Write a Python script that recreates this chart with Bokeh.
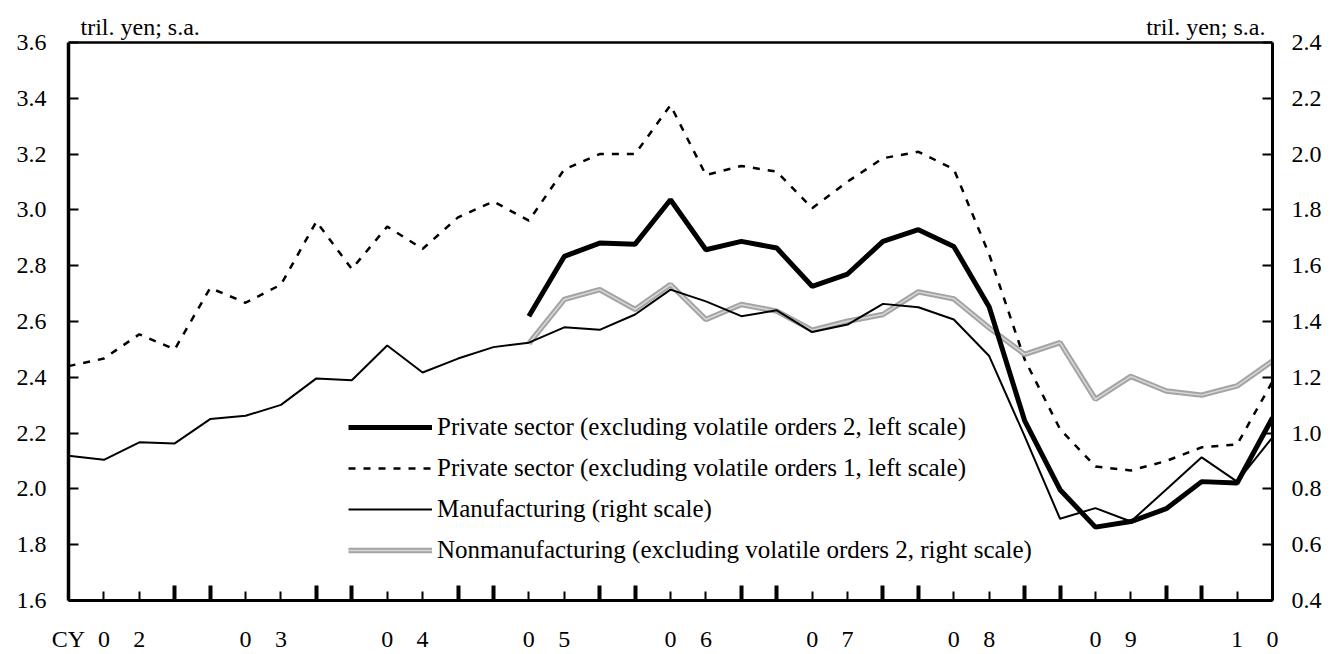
from bokeh.plotting import figure
from bokeh.models import (Range1d, LinearAxis, FixedTicker, Legend, LegendItem,
                          Span, PrintfTickFormatter)
from bokeh.core.properties import value
from bokeh.embed import file_html
from bokeh.resources import INLINE

nan = float("nan")

# quarterly index, 2002Q1 .. 2010Q3
quarters = list(range(35))
quarter_labels = ["CY", "0", "2", "", "", "0", "3", "", "", "0", "4", "", "",
                  "0", "5", "", "", "0", "6", "", "", "0", "7", "", "",
                  "0", "8", "", "", "0", "9", "", "", "1", "0"]
label_ticks = [0, 1, 2, 5, 6, 9, 10, 13, 14, 17, 18, 21, 22, 25, 26, 29, 30, 33, 34]
year_edge_ticks = [3, 4, 7, 8, 11, 12, 15, 16, 19, 20, 23, 24, 27, 28, 31, 32]

left_ticks = [1.6, 1.8, 2.0, 2.2, 2.4, 2.6, 2.8, 3.0, 3.2, 3.4, 3.6]
right_ticks = [0.4, 0.6, 0.8, 1.0, 1.2, 1.4, 1.6, 1.8, 2.0, 2.2, 2.4]
left_min, left_max = 1.6, 3.6
right_min, right_max = 0.4, 2.4
unit_text = "tril. yen; s.a."

# Private sector (excluding volatile orders 2), left scale
private2 = [nan] * 13 + [2.619, 2.833, 2.881, 2.877, 3.036, 2.857, 2.887, 2.863,
                         2.726, 2.770, 2.887, 2.929, 2.869, 2.652, 2.245, 1.997,
                         1.863, 1.883, 1.929, 2.026, 2.021, 2.255]
# Private sector (excluding volatile orders 1), left scale
private1 = [2.440, 2.467, 2.554, 2.500, 2.720, 2.667, 2.732, 2.958, 2.788, 2.940,
            2.860, 2.973, 3.030, 2.961, 3.145, 3.200, 3.200, 3.375, 3.125, 3.157,
            3.137, 3.006, 3.101, 3.185, 3.208, 3.146, 2.840, 2.464, 2.214, 2.080,
            2.066, 2.100, 2.149, 2.159, 2.385]
# Manufacturing, right scale
manufacturing = [0.919, 0.904, 0.967, 0.963, 1.050, 1.062, 1.101, 1.196, 1.189, 1.314,
                 1.217, 1.267, 1.308, 1.324, 1.379, 1.370, 1.425, 1.514, 1.472, 1.419,
                 1.440, 1.362, 1.389, 1.463, 1.451, 1.407, 1.276, 0.989, 0.693, 0.731,
                 0.683, 0.798, 0.913, 0.826, 0.985]
# Nonmanufacturing (excluding volatile orders 2), right scale
nonmanufacturing = [nan] * 13 + [1.321, 1.479, 1.514, 1.443, 1.532, 1.407, 1.461, 1.437,
                                 1.369, 1.401, 1.425, 1.506, 1.481, 1.377, 1.282, 1.324,
                                 1.121, 1.203, 1.151, 1.136, 1.169, 1.258]

names = ["Private sector (excluding volatile orders 2, left scale)",
         "Private sector (excluding volatile orders 1, left scale)",
         "Manufacturing (right scale)",
         "Nonmanufacturing (excluding volatile orders 2, right scale)"]

FONT = "Liberation Serif"
FS = "24px"
HEAD = 0.1  # extra room above the chart box for the unit captions

p = figure(width=1330, height=654, x_range=Range1d(0, 34),
           y_range=Range1d(left_min, left_max + HEAD),
           output_backend="svg", toolbar_location=None,
           min_border_left=68, min_border_right=58, min_border_top=14, min_border_bottom=52)
p.extra_y_ranges = {"right": Range1d(right_min, right_max + HEAD)}
p.xgrid.visible = False
p.ygrid.visible = False
p.outline_line_color = None
p.background_fill_color = "white"
p.border_fill_color = "white"

# top edge of the chart box
p.add_layout(Span(location=left_max, dimension="width", line_color="black", line_width=2.5))

# lines
r_p1 = p.line(quarters, private1, line_color="black", line_width=2.5, line_dash="7 8")
r_nm1 = p.line(quarters, nonmanufacturing, line_color="#a4a4a4", line_width=5.5,
               y_range_name="right")
r_nm2 = p.line(quarters, nonmanufacturing, line_color="#d8d8d8", line_width=1.5,
               y_range_name="right")
r_mf = p.line(quarters, manufacturing, line_color="black", line_width=2, y_range_name="right")
r_p2 = p.line(quarters, private2, line_color="black", line_width=5)

# unit captions above the box
p.text(x=[0], y=[left_max], text=[unit_text], x_offset=12, y_offset=-15,
       text_baseline="alphabetic", text_align="left",
       text_font=value(FONT), text_font_size=FS, text_color="black")
p.text(x=[34], y=[left_max], text=[unit_text], x_offset=-7, y_offset=-15,
       text_baseline="alphabetic", text_align="right",
       text_font=value(FONT), text_font_size=FS, text_color="black")

# x axis
xa = p.xaxis[0]
xa.ticker = FixedTicker(ticks=label_ticks, minor_ticks=year_edge_ticks)
xa.major_label_overrides = {i: quarter_labels[i] for i in label_ticks}
xa.axis_line_width = 3
xa.major_tick_in = 9
xa.major_tick_out = 0
xa.major_tick_line_width = 2
xa.minor_tick_in = 15
xa.minor_tick_out = 0
xa.minor_tick_line_width = 4
xa.major_label_standoff = 25
xa.major_label_text_font = FONT
xa.major_label_text_font_size = FS
xa.major_label_text_color = "black"

# left axis
ya = p.yaxis[0]
ya.ticker = FixedTicker(ticks=left_ticks)
ya.bounds = (left_min, left_max)
ya.formatter = PrintfTickFormatter(format="%.1f")
ya.axis_line_width = 3.5
ya.major_tick_in = 10
ya.major_tick_out = 0
ya.major_tick_line_width = 2
ya.minor_tick_line_color = None
ya.major_label_standoff = 22
ya.major_label_text_font = FONT
ya.major_label_text_font_size = FS
ya.major_label_text_color = "black"

# right axis
ra = LinearAxis(y_range_name="right", ticker=FixedTicker(ticks=right_ticks),
                formatter=PrintfTickFormatter(format="%.1f"), bounds=(right_min, right_max))
ra.axis_line_width = 3
ra.major_tick_in = 10
ra.major_tick_out = 0
ra.major_tick_line_width = 2
ra.minor_tick_line_color = None
ra.major_label_standoff = 19
ra.major_label_text_font = FONT
ra.major_label_text_font_size = FS
ra.major_label_text_color = "black"
p.add_layout(ra, "right")

legend = Legend(items=[LegendItem(label=names[0], renderers=[r_p2]),
                       LegendItem(label=names[1], renderers=[r_p1]),
                       LegendItem(label=names[2], renderers=[r_mf]),
                       LegendItem(label=names[3], renderers=[r_nm1, r_nm2])],
                location=(280, 35), orientation="vertical",
                glyph_width=84, glyph_height=30, label_height=30, spacing=11,
                padding=0, margin=0, label_standoff=5,
                label_text_font=FONT, label_text_font_size="25px", label_text_color="black",
                border_line_color=None, background_fill_alpha=0)
p.add_layout(legend)

open("out.html", "w").write(file_html(p, INLINE))
